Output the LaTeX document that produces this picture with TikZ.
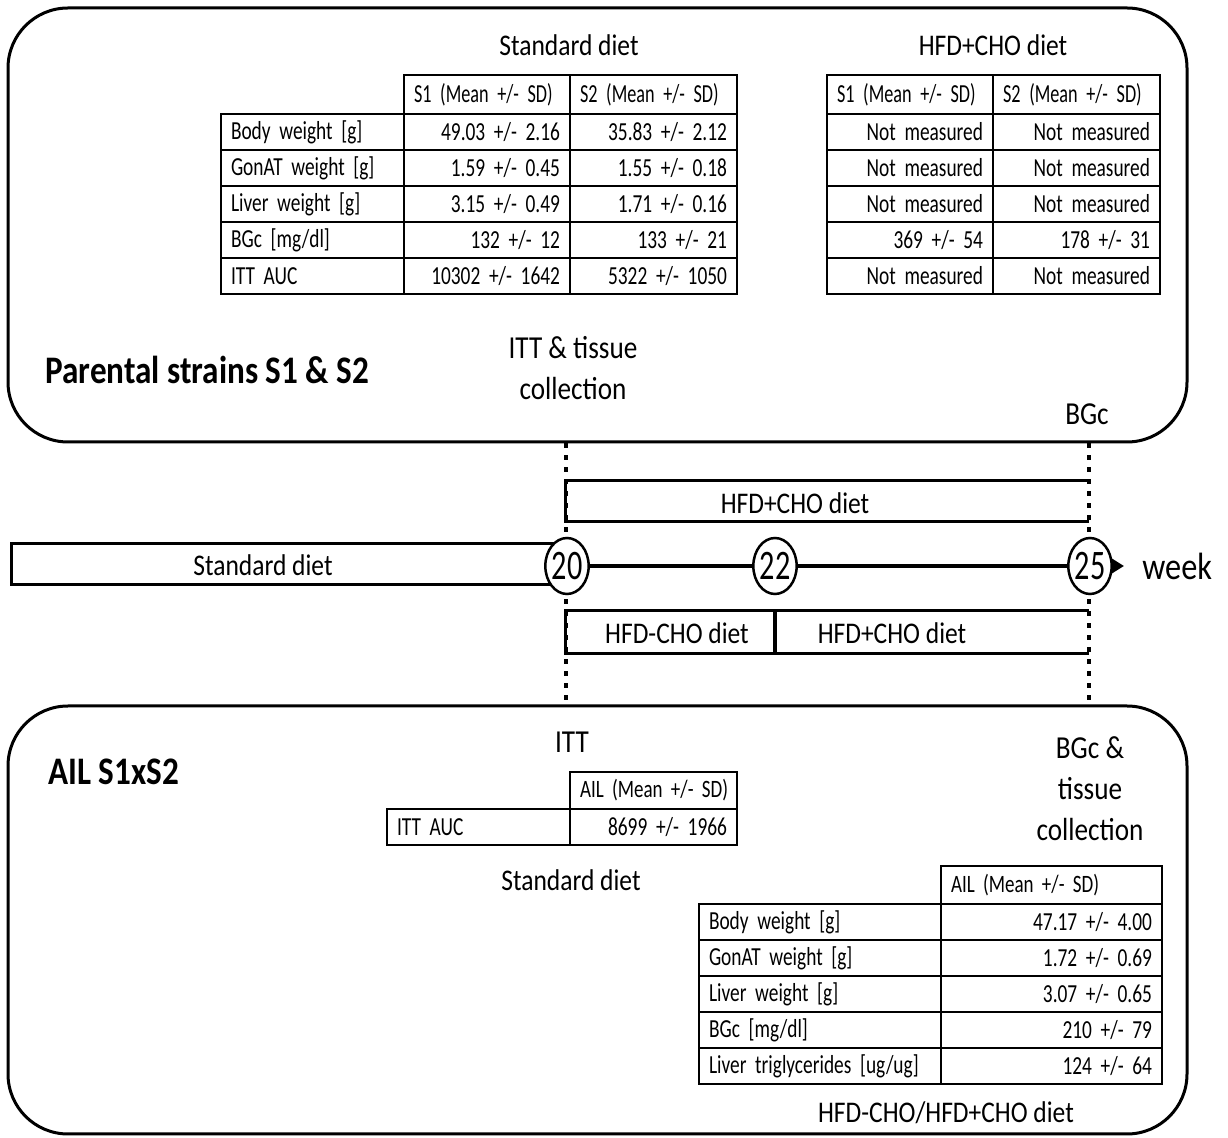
\documentclass[tikz,border=0pt]{standalone}
\usepackage{fontspec}
\setmainfont{Carlito}[FakeStretch=0.85]
\newfontfamily\weekfont{Carlito}[FakeStretch=0.72]
\newfontfamily\tabfamily{Carlito}[FakeStretch=0.745]
\newfontfamily\headfamily{Carlito}[FakeStretch=0.7]
\newfontfamily\ailheadfamily{Carlito}[FakeStretch=0.76]
\usetikzlibrary{positioning,arrows.meta,shapes.geometric}

\begin{document}
\begin{tikzpicture}[
    x=0.5pt, y=-0.5pt,
    panel/.style={draw, line width=1.5pt, rounded corners=30pt},
    cellbox/.style={draw, line width=1pt, inner xsep=5pt, inner ysep=0pt, minimum height=18pt, font=\tabfamily\fontsize{13}{15}\selectfont},
    headcell/.style={cellbox, minimum height=19.5pt, align=left, font=\headfamily\fontsize{13}{15}\selectfont},
    ailheadcell/.style={headcell, font=\ailheadfamily\fontsize{12.5}{15}\selectfont},
    labcell/.style={cellbox, align=left},
    valcell/.style={cellbox, align=right},
    dietlabel/.style={font=\fontsize{15}{18}\selectfont},
    eventlabel/.style={font=\fontsize{16}{20.5}\selectfont, align=center},
    strainlabel/.style={font=\fontsize{19.5}{23}\selectfont\bfseries, inner sep=0pt},
    bar/.style={minimum height=20pt, inner sep=0pt},
    barline/.style={line width=1.75pt},
    weekmark/.style={draw, fill=white, ellipse, line width=1.25pt, minimum width=20pt, minimum height=28pt, inner sep=0pt, font=\weekfont\fontsize{21}{23}\selectfont},
    axis/.style={line width=2pt},
    timemark/.style={line width=2pt, dash pattern=on 2.5pt off 3.5pt},
    >={Triangle[length=6pt,width=7pt]}
  ]
  \useasboundingbox (0,0) rectangle (1228,1138);

  % the two panels
  \node[panel, minimum width=589.5pt, minimum height=217pt] (parentalbox) at (597.5,225) {};
  \node[panel, minimum width=589.5pt, minimum height=214pt] (ailbox) at (597.5,920) {};

  % diet bars of the timeline
  \node[bar, minimum width=277pt] (stdbar) at (289,564) {};
  \node[bar, minimum width=261.5pt] (hfdbar) at (827.5,501) {};
  \node[bar, minimum width=104.5pt, minimum height=21pt] (lowbar1) at (670.5,632) {};
  \node[bar, minimum width=157pt, minimum height=21pt] (lowbar2) at (932,632) {};

  \draw[timemark] (parentalbox.south -| stdbar.east) -- (ailbox.north -| stdbar.east);
  \draw[timemark] (parentalbox.south -| hfdbar.east) -- (ailbox.north -| hfdbar.east);

  \draw[barline] (stdbar.north east) -- (stdbar.north west) -- (stdbar.south west) -- (stdbar.south east);
  \draw[barline] (hfdbar.north east) -- (hfdbar.north west) -- (hfdbar.south west) -- (hfdbar.south east);
  \draw[barline] (lowbar1.north east) rectangle (lowbar1.south west);
  \draw[barline] (lowbar2.north east) -- (lowbar2.north west) -- (lowbar2.south west) -- (lowbar2.south east);

  \node[dietlabel] (stdbartext) at (263,565) {Standard diet};
  \node[dietlabel] (hfdbartext) at (795,503) {HFD+CHO diet};
  \node[dietlabel] (low1text) at (677,633) {HFD-CHO diet};
  \node[dietlabel] (low2text) at (892,633) {HFD+CHO diet};

  % weeks
  \node[weekmark] (w20) at (567,566) {20};
  \node[weekmark] (w22) at (775,566) {22};
  \node[weekmark] (w25) at (1090,566) {25};
  \draw[axis] (w20) -- (w22);
  \draw[axis] (w22) -- (w25);
  \coordinate (tipend) at (1124,566);
  \draw[axis,->] (w25) -- (tipend);
  \node[font=\fontsize{19}{22}\selectfont, inner sep=0pt, right=9pt of tipend] (week) {week};

  % parental strains
  \node[dietlabel] (stdtitle) at (569,45) {Standard diet};
  \node[dietlabel] (hfdtitle) at (993,45) {HFD+CHO diet};

  \node[headcell, text width=73pt] (stdh1) at (487,94.5) {S1 (Mean +/- SD)};
  \node[headcell, text width=73.5pt] (stdh2) at (653.5,94.5) {S2 (Mean +/- SD)};
  \foreach \lab/\sone/\stwo [count=\i] in {
      {Body weight [g]}/{49.03 +/- 2.16}/{35.83 +/- 2.12},
      {GonAT weight [g]}/{1.59 +/- 0.45}/{1.55 +/- 0.18},
      {Liver weight [g]}/{3.15 +/- 0.49}/{1.71 +/- 0.16},
      {BGc [mg/dl]}/{132 +/- 12}/{133 +/- 21},
      {ITT AUC}/{10302 +/- 1642}/{5322 +/- 1050}}{
    \node[labcell, text width=81.5pt] (std-\i-a) at (312.5,{96+36*\i}) {\lab};
    \node[valcell, text width=73pt] (std-\i-b) at (487,{96+36*\i}) {\sone};
    \node[valcell, text width=73.5pt] (std-\i-c) at (653.5,{96+36*\i}) {\stwo};
  }

  \node[headcell, text width=73pt] (hfdh1) at (910,94.5) {S1 (Mean +/- SD)};
  \node[headcell, text width=73.5pt] (hfdh2) at (1076.5,94.5) {S2 (Mean +/- SD)};
  \foreach \sone/\stwo [count=\i] in {
      {Not measured}/{Not measured},
      {Not measured}/{Not measured},
      {Not measured}/{Not measured},
      {369 +/- 54}/{178 +/- 31},
      {Not measured}/{Not measured}}{
    \node[valcell, text width=73pt] (hfd-\i-b) at (910,{96+36*\i}) {\sone};
    \node[valcell, text width=73.5pt] (hfd-\i-c) at (1076.5,{96+36*\i}) {\stwo};
  }

  \node[strainlabel, anchor=west] (parentaltitle) at (45,370) {Parental strains S1 \& S2};
  \node[eventlabel] (ittcollect) at (573,368) {ITT \& tissue\\collection};
  \node[eventlabel] (bgctop) at (1087,414) {BGc};

  % AIL
  \node[strainlabel, anchor=west] (ailtitle) at (48,772) {AIL S1xS2};
  \node[eventlabel] (ittbottom) at (572,742) {ITT};
  \node[ailheadcell, text width=73.5pt, minimum height=18.5pt] (itth) at (653.5,790.5) {\mbox{AIL (Mean +/- SD)}};
  \node[labcell, text width=81.5pt] (itt-a) at (478.5,827) {ITT AUC};
  \node[valcell, text width=73.5pt] (itt-b) at (653.5,827) {8699 +/- 1966};
  \node[dietlabel] (stdbottom) at (571,880) {Standard diet};

  \node[eventlabel] (bgcbottom) at (1090,789) {BGc \&\\tissue\\collection};
  \node[ailheadcell, text width=100.5pt, minimum height=19pt] (ailh) at (1051.5,885) {AIL (Mean +/- SD)};
  \foreach \lab/\val [count=\i] in {
      {Body weight [g]}/{47.17 +/- 4.00},
      {GonAT weight [g]}/{1.72 +/- 0.69},
      {Liver weight [g]}/{3.07 +/- 0.65},
      {BGc [mg/dl]}/{210 +/- 79},
      {Liver triglycerides [ug/ug]}/{124 +/- 64}}{
    \node[labcell, text width=111pt] (ail-\i-a) at (820,{886+36*\i}) {\lab};
    \node[valcell, text width=100.5pt] (ail-\i-b) at (1051.5,{886+36*\i}) {\val};
  }
  \node[dietlabel] (mixtitle) at (946,1113) {HFD-CHO/HFD+CHO diet};

\end{tikzpicture}
\end{document}
